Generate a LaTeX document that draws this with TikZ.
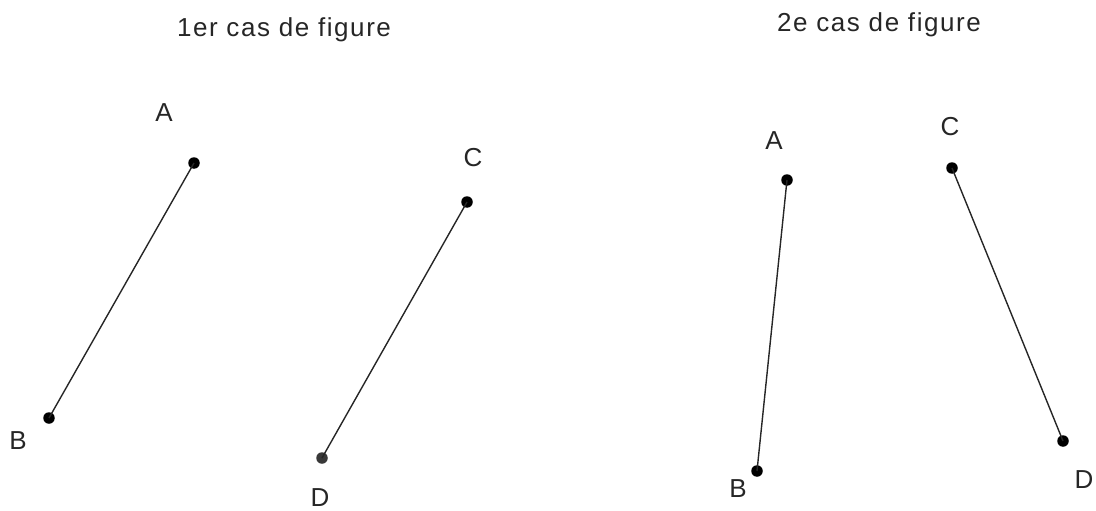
\documentclass[tikz,border=0pt]{standalone}
\usepackage{fontspec}
\setmainfont{Liberation Sans}[LetterSpace=6]
\begin{document}
\begin{tikzpicture}[x=1pt,y=-1pt,
  pt/.style={circle,fill=black,inner sep=0pt,minimum size=11.5pt},
  lbl/.style={inner sep=0pt,font=\fontsize{26}{30}\selectfont,text=black!85},
  ttl/.style={inner sep=0pt,anchor=base,font=\fontsize{26}{30}\selectfont,text=black!85},
  seg/.style={line width=1.4pt,black!85}]
\useasboundingbox (0,0) rectangle (1096,511);
% titles
\node[ttl] (t1) at (284,37) {1er cas de figure};
\node[ttl] (t2) at (879,32) {2e cas de figure};
% case 1
\node[pt] (A1) at (194,163) {};
\node[pt] (B1) at (49,418) {};
\node[pt] (C1) at (467,202) {};
\node[pt,fill=black!78] (D1) at (322,458) {};
\draw[seg] (A1.center) -- (B1.center);
\draw[seg] (C1.center) -- (D1.center);
\node[lbl] (lA1) at (164,113) {A};
\node[lbl] (lB1) at (18,441) {B};
\node[lbl] (lC1) at (473,158) {C};
\node[lbl] (lD1) at (320,498) {D};
% case 2
\node[pt] (A2) at (787,180) {};
\node[pt] (B2) at (757,471) {};
\node[pt] (C2) at (952,168) {};
\node[pt] (D2) at (1063,441) {};
\draw[seg] (A2.center) -- (B2.center);
\draw[seg] (C2.center) -- (D2.center);
\node[lbl] (lA2) at (774,141) {A};
\node[lbl] (lB2) at (738,489) {B};
\node[lbl] (lC2) at (950,127) {C};
\node[lbl] (lD2) at (1084,480) {D};
\end{tikzpicture}
\end{document}
